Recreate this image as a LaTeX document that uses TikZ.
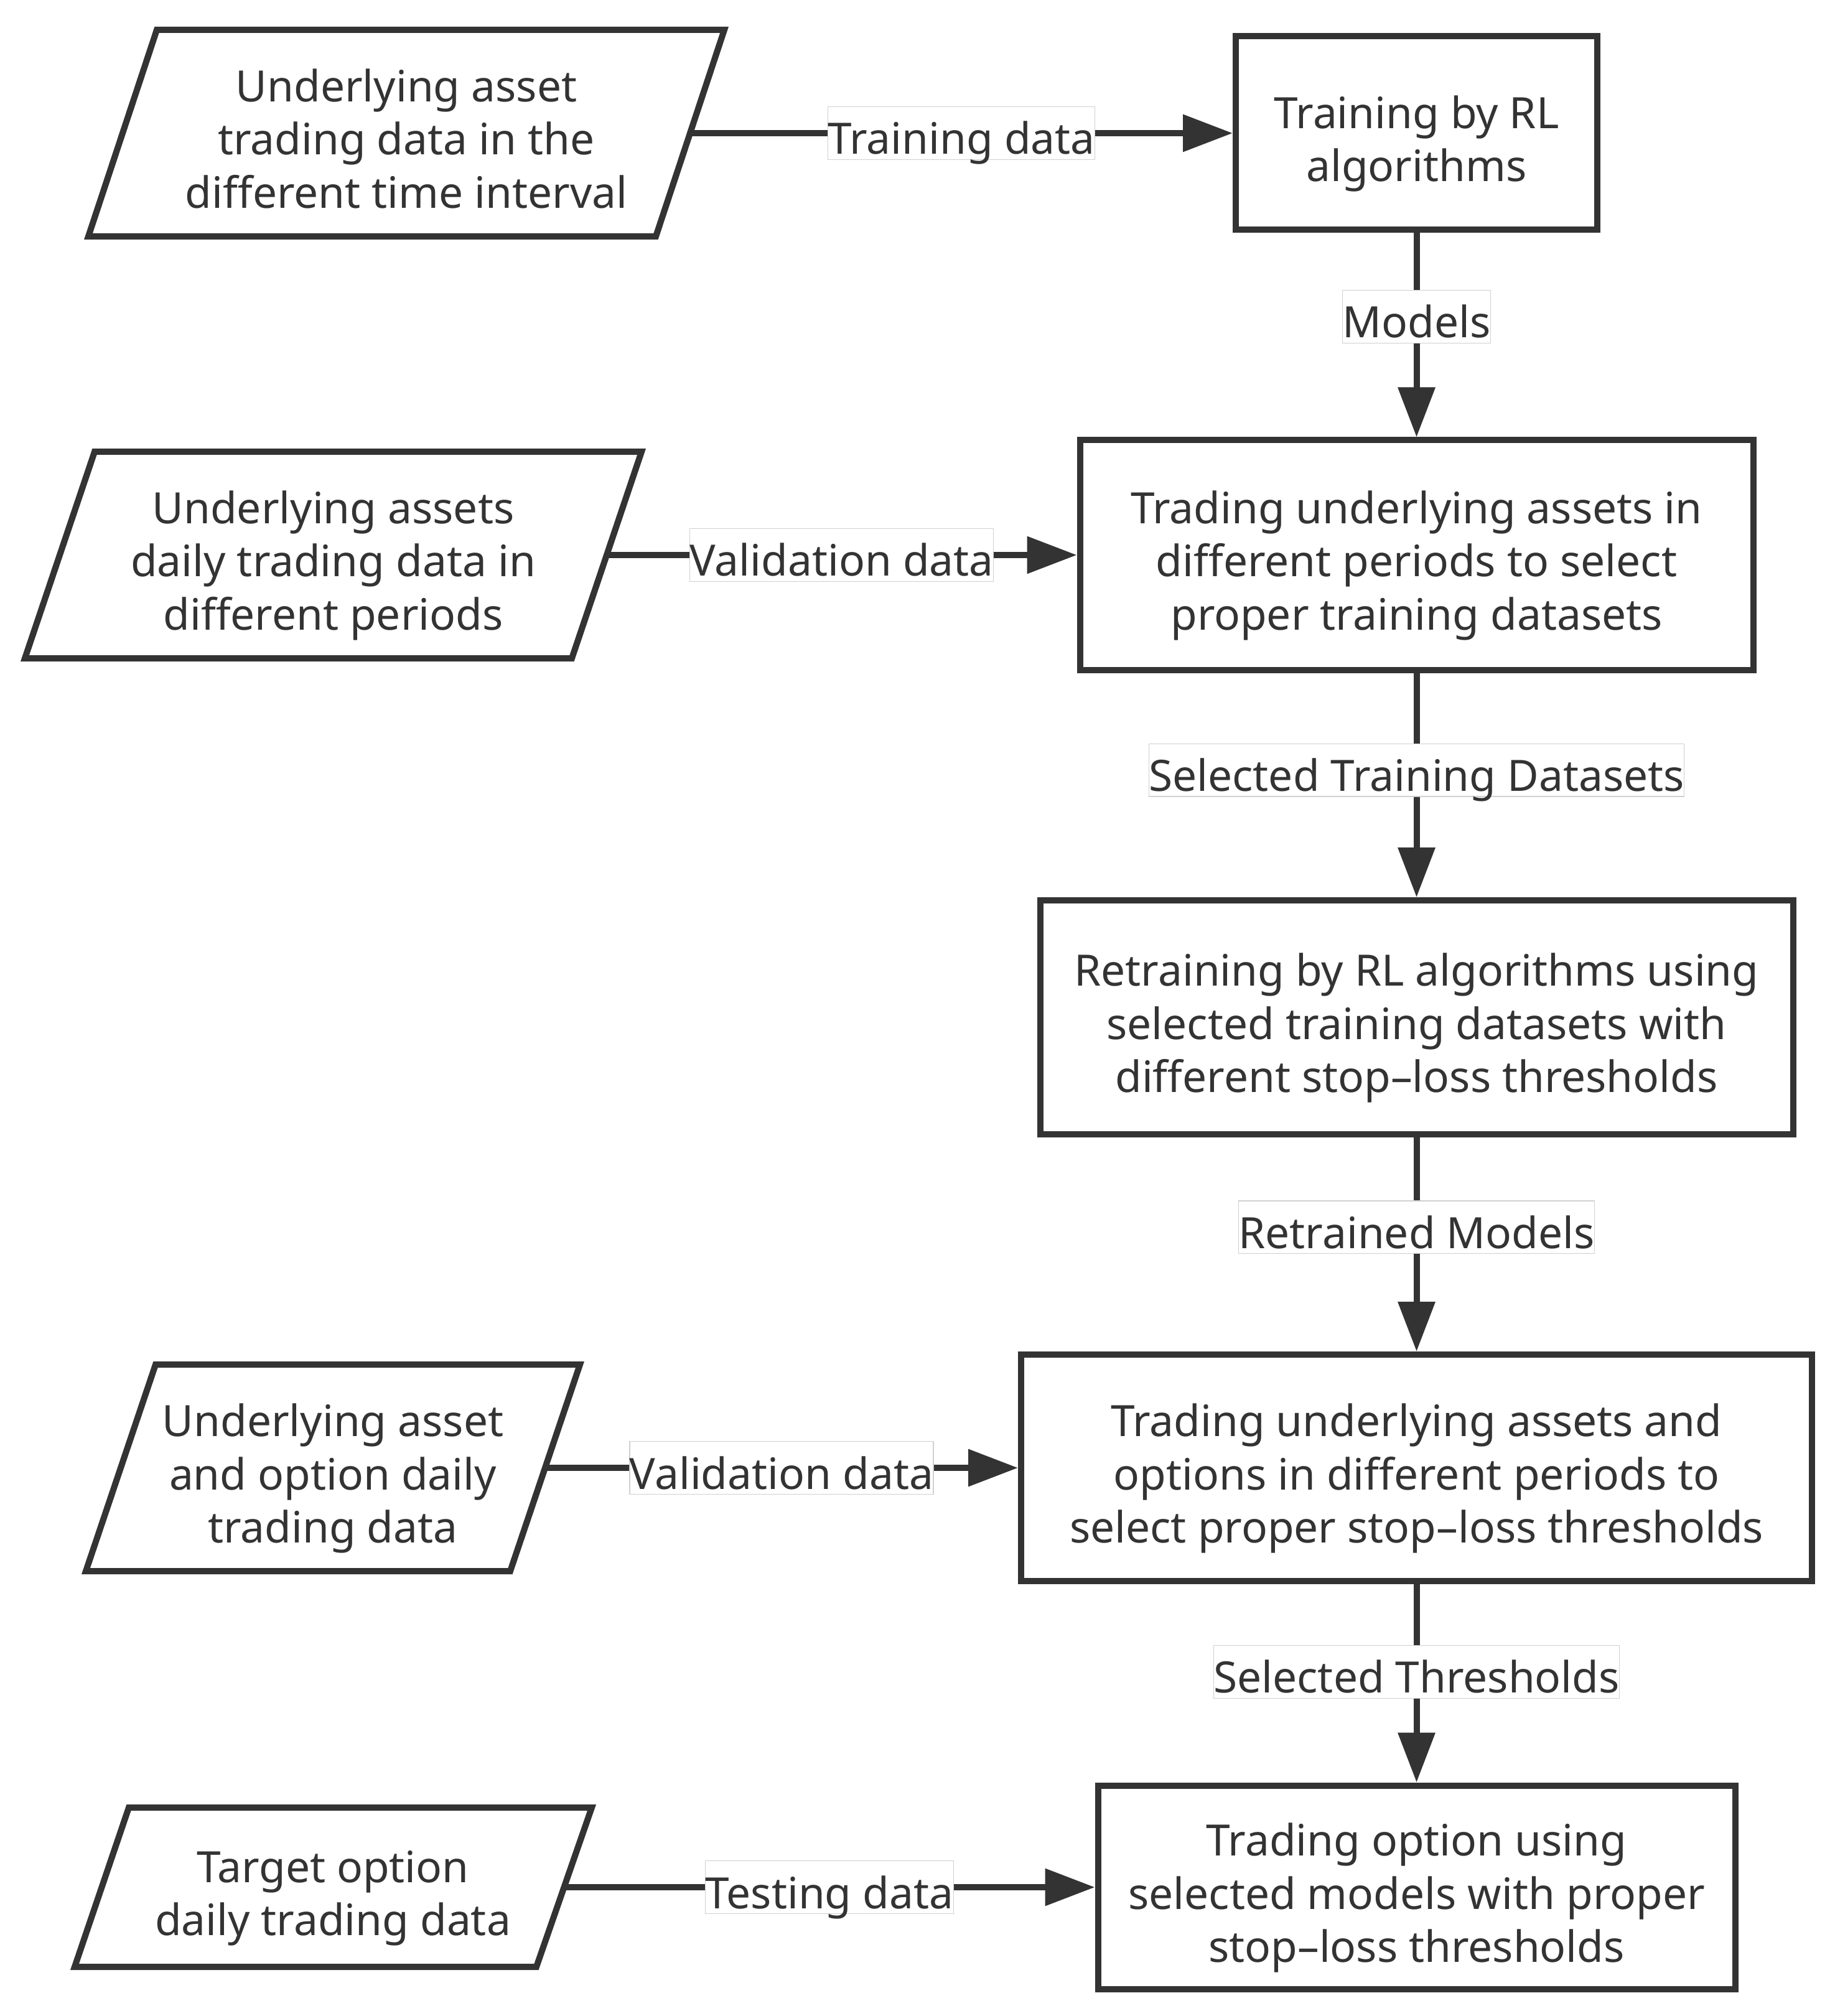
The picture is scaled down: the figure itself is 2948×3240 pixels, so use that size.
\documentclass[tikz,border=0pt]{standalone}
\usepackage{fontspec}
\setmainfont{Noto Sans}
\usetikzlibrary{arrows.meta,calc}
\definecolor{ink}{HTML}{333333}
\definecolor{lblline}{HTML}{D0D0D0}
\newcommand\ftop{\rule{0pt}{22pt}}
\newcommand\fbot{\rule[-4.5pt]{0pt}{4.5pt}}
\begin{document}
\begin{tikzpicture}[x=0.25pt,y=-0.25pt,
  every node/.style={font=\fontsize{17.35pt}{21.4pt}\selectfont, text=ink},
  box/.style={draw=ink, line width=2.5pt, fill=white, align=center, inner sep=1pt},
  para/.style={draw=ink, line width=2.5pt, fill=white, line join=miter},
  ptext/.style={align=center, inner sep=0pt},
  conn/.style={draw=ink, line width=2.5pt, -{Triangle[length=20pt,width=14.5pt]}},
  lbl/.style={fill=white, draw=lblline, line width=0.3pt, inner xsep=0pt, inner ysep=0pt,
              text height=19.1pt, text depth=2.1pt}]
\useasboundingbox (0,0) rectangle (2948,3240);

% process boxes
\node[box, minimum width=145.25pt, minimum height=77.75pt] (b1) at (2276.5,214)
  {\ftop Training by RL\\algorithms\fbot};
\node[box, minimum width=270.5pt, minimum height=92.25pt] (b2) at (2276.5,892)
  {\ftop Trading underlying assets in\\different periods to select\\proper training datasets\fbot};
\node[box, minimum width=302.5pt, minimum height=94pt] (b3) at (2276.5,1635)
  {\ftop Retraining by RL algorithms using\\selected training datasets with\\different stop–loss thresholds\fbot};
\node[box, minimum width=317.75pt, minimum height=91pt] (b4) at (2276.5,2359)
  {\ftop Trading underlying assets and\\options in different periods to\\select proper stop–loss thresholds\fbot};
\node[box, minimum width=256pt, minimum height=81.75pt] (b5) at (2276.5,3033)
  {\ftop Trading option using\\selected models with proper\\stop–loss thresholds\fbot};

% data parallelograms
\draw[para] (252,48) -- (1164,48) -- (1054,380) -- (142,380) -- cycle;
\node[ptext] (p1) at (653,214)
  {\ftop Underlying asset\\trading data in the\\different time interval\fbot};
\coordinate (p1e) at (1109,214);

\draw[para] (152,726) -- (1031,726) -- (919,1058) -- (40,1058) -- cycle;
\node[ptext] (p2) at (535.5,892)
  {\ftop Underlying assets\\daily trading data in\\different periods\fbot};
\coordinate (p2e) at (975,892);

\draw[para] (250,2193) -- (932,2193) -- (820,2525) -- (138,2525) -- cycle;
\node[ptext] (p3) at (535,2359)
  {\ftop Underlying asset\\and option daily\\trading data\fbot};
\coordinate (p3e) at (876,2359);

\draw[para] (207,2905) -- (951,2905) -- (862,3161) -- (120,3161) -- cycle;
\node[ptext] (p4) at (535,3033)
  {\ftop Target option\\daily trading data\fbot};
\coordinate (p4e) at (906.5,3033);

% connectors
\draw[conn] (p1e) -- node[lbl] {Training data} (b1.west);
\draw[conn] (p2e) -- node[lbl] {Validation data} (b2.west);
\draw[conn] (p3e) -- node[lbl] {Validation data} (b4.west);
\draw[conn] (p4e) -- node[lbl] {Testing data} (b5.west);

\draw[conn] (b1.south) -- node[lbl, pos=0.41] {Models} (b2.north);
\draw[conn] (b2.south) -- node[lbl, pos=0.433] {Selected Training Datasets} (b3.north);
\draw[conn] (b3.south) -- node[lbl, pos=0.42] {Retrained Models} (b4.north);
\draw[conn] (b4.south) -- node[lbl, pos=0.442] {Selected Thresholds} (b5.north);
\end{tikzpicture}
\end{document}
